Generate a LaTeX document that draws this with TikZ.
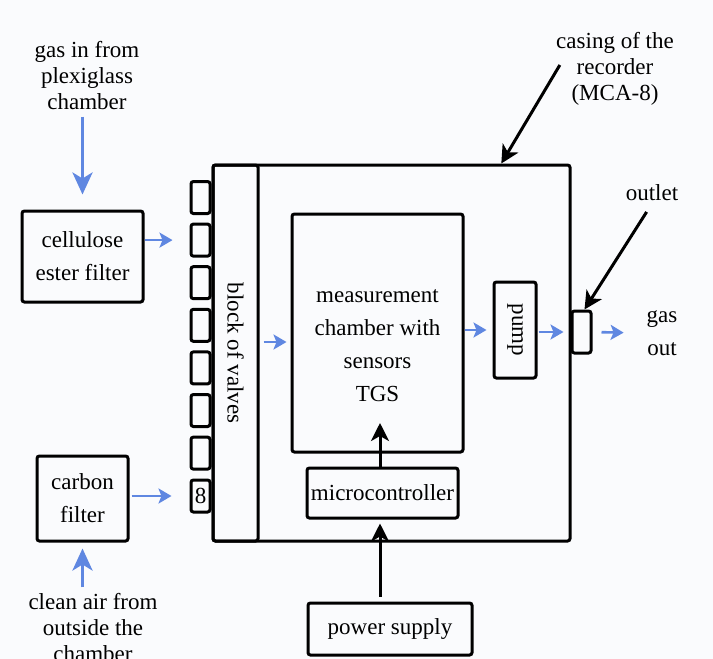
\documentclass[tikz,border=0pt]{standalone}
\usepackage{fontspec}
\setmainfont{Liberation Serif}
\usetikzlibrary{positioning,arrows.meta,calc}
\definecolor{flowblue}{RGB}{95,135,225}
\definecolor{paper}{RGB}{250,251,253}

\begin{document}
\begin{tikzpicture}[
    x=0.5pt, y=-0.5pt,
    font=\fontsize{11.5}{16.5}\selectfont,
    b/.style={draw, line width=1.5pt, rounded corners=1.2pt, align=center, inner sep=0pt},
    valve/.style={b, minimum width=9.5pt, minimum height=16pt},
    lb/.style={align=center, font=\fontsize{11.5}{13}\selectfont, inner sep=1pt},
    fl/.style={flowblue, line width=1.3pt, -{Stealth[length=6.5pt, width=7.5pt, inset=1.5pt]}},
    fin/.style={flowblue, line width=1.7pt, -{Stealth[length=11pt, width=10pt, inset=3pt]}},
    bl/.style={line width=1.5pt, -{Stealth[length=9pt, width=9pt, inset=2.5pt]}},
]
    \useasboundingbox (0,0) rectangle (713,659);
    \fill[paper] (0,0) rectangle (713,659);

    % recorder casing and valves
    \node[b, minimum width=178.5pt, minimum height=188pt] (casing) at (391.5,353) {};
    \node[b, minimum width=22.5pt, minimum height=188pt, label={[rotate=-90]center:block of valves}] (valves) at (235.5,353) {};
    \foreach \i in {1,...,7} \node[valve] (v\i) at (200.5,{197.5+42.6*(\i-1)}) {};
    \node[valve] (v8) at (200.5,496) {8};

    % filters and inputs
    \node[b, minimum width=60.5pt, minimum height=45.5pt] (cellulose) at (82.5,256.5) {cellulose\\ester filter};
    \node[b, minimum width=45.5pt, minimum height=42.5pt] (carbon) at (82.5,498.5) {carbon\\filter};
    \node[lb] (gasin) at (87,76) {gas in from\\plexiglass\\chamber};
    \node[lb] (cleanair) at (93,628) {clean air from\\outside the\\chamber};

    % inside the casing
    \node[b, minimum width=85.5pt, minimum height=119pt] (chamber) at (377.5,333) {};
    \node[align=center] (chambertxt) at ([yshift=-6.5pt]chamber.center) {measurement\\chamber with\\sensors\\TGS};
    \node[b, minimum width=21pt, minimum height=48pt, label={[rotate=-90]center:pump}] (pump) at (515,330) {};
    \node[b, minimum width=9.5pt, minimum height=21pt] (outlet) at (581.5,332) {};
    \node[b, minimum width=75.5pt, minimum height=25pt] (micro) at (382.5,493) {microcontroller};
    \node[b, minimum width=82pt, minimum height=26pt] (power) at (390,629) {power supply};
    \node[align=center] (gasout) at (662,333) {gas\\out};
    \coordinate (sens) at (380,423);

    % labels
    \node[lb] (casinglbl) at (615,69) {casing of the\\recorder\\(MCA-8)};
    \node[lb] (outletlbl) at (652,193) {outlet};

    % gas flow
    \draw[fin, shorten <=2pt, shorten >=7.5pt] (cellulose.north |- gasin.south) -- (cellulose.north);
    \draw[fl, shorten >=8.5pt] (cellulose.east |- v2.west) -- (v2.west);
    \draw[fin, shorten <=2pt, shorten >=3pt] (cleanair.north -| carbon.south) -- (carbon.south);
    \draw[fl, shorten <=1pt, shorten >=9pt] (carbon.east |- v8.west) -- (v8.west);
    \draw[fl, shorten <=2pt, shorten >=2pt] ([yshift=-4.5pt]valves.east |- chamber.west) -- ([yshift=-4.5pt]chamber.west);
    \draw[fl, shorten >=3pt] (chamber.east |- pump.west) -- (pump.west);
    \draw[fl, shorten <=0.5pt, shorten >=3.5pt] (pump.east |- outlet.west) -- (outlet.west);
    \draw[fl, shorten <=4.5pt, shorten >=8pt] (outlet.east) -- (gasout.west);

    % control and pointers
    \draw[bl] (micro.north -| sens) -- (sens);
    \draw[bl, shorten <=2.5pt, shorten >=2pt] (power.north -| sens) -- (micro.south -| sens);
    \draw[bl] ([shift={(3pt,2pt)}]casinglbl.west) -- ($(casing.north west)!0.805!(casing.north east)$);
    \draw[bl, shorten <=5pt] (outletlbl.south) -- ([xshift=1.5pt]outlet.north);
\end{tikzpicture}
\end{document}
